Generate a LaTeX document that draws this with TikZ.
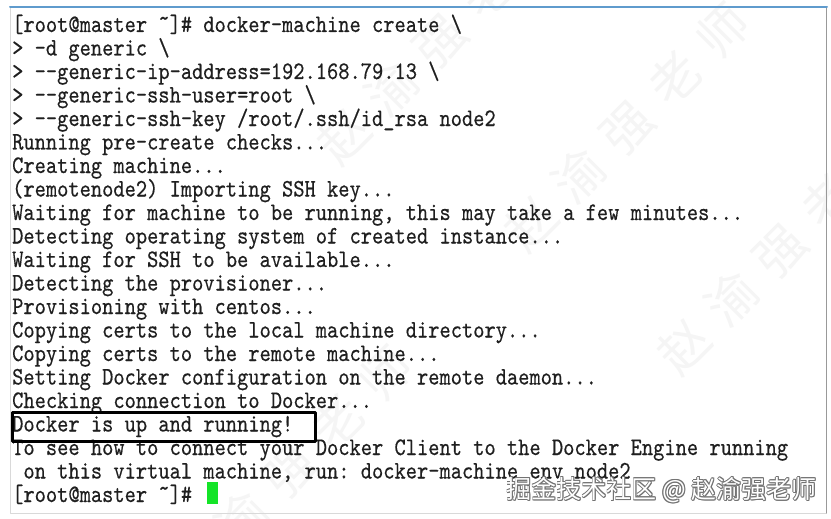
\documentclass[tikz,border=0pt]{standalone}
\usepackage{fontspec}
\setmonofont{lmmono10-regular.otf}[FakeStretch=0.85,FakeBold=0.4]
\newfontfamily\cjkfont{Noto Sans CJK SC}
\usepackage{tikz}
\usetikzlibrary{calc}
\newcommand{\wmgap}{\hspace{18pt}}
\newcommand{\tld}{\raisebox{6pt}{\textasciitilde}}
\definecolor{termblue}{RGB}{95,155,205}
\definecolor{cursorgreen}{RGB}{20,228,40}
\tikzset{
  termline/.style={anchor=base west, inner sep=0pt, font=\ttfamily\fontsize{25.2}{28}\selectfont, text=black!88},
  wmark/.style={inner sep=0pt, rotate=45, text=black!4, font=\cjkfont\fontsize{50}{50}\selectfont},
  sitemark/.style={anchor=east, inner sep=0pt, font=\cjkfont\fontsize{25}{25}\selectfont}
}

\begin{document}
\begin{tikzpicture}[line cap=round,line join=round,x=1pt,y=-1pt]
\useasboundingbox (0,0) rectangle (831,519);
\fill [white] (0,0) rectangle (831,519);
% faint diagonal watermarks
\node [wmark] (wa) at (627,127) {赵\wmgap 渝\wmgap 强\wmgap 老\wmgap 师};
\node [wmark] (wb) at (780,250) {赵\wmgap 渝\wmgap 强\wmgap 老\wmgap 师};
\node [wmark] (wc) at (290,470) {赵\wmgap 渝\wmgap 强\wmgap 老\wmgap 师};
\node [wmark] (wd) at (440,40) {赵\wmgap 渝\wmgap 强\wmgap 老\wmgap 师};
% window frame
\draw [line width=1.pt, black!15] (10.,7.) rectangle (826.,513.);
\draw [line width=1.pt, black!40] (826.,7.)-- (826.,513.);
\draw [line width=2.pt, termblue] (10.,7.)-- (827.,7.);
% terminal lines
\node [termline] (l1) at (12.,32.) {[root@master \tld]\# docker-machine create \textbackslash};
\node [termline] (l2) at (12.,55.5) {> -d generic \textbackslash};
\node [termline] (l3) at (12.,79.) {> --generic-ip-address=192.168.79.13 \textbackslash};
\node [termline] (l4) at (12.,102.5) {> --generic-ssh-user=root \textbackslash};
\node [termline] (l5) at (12.,126.) {> --generic-ssh-key /root/.ssh/id\_rsa node2};
\node [termline] (l6) at (12.,149.5) {Running pre-create checks...};
\node [termline] (l7) at (12.,173.) {Creating machine...};
\node [termline] (l8) at (12.,196.5) {(remotenode2) Importing SSH key...};
\node [termline] (l9) at (12.,220.) {Waiting for machine to be running, this may take a few minutes...};
\node [termline] (l10) at (12.,243.5) {Detecting operating system of created instance...};
\node [termline] (l11) at (12.,267.) {Waiting for SSH to be available...};
\node [termline] (l12) at (12.,290.5) {Detecting the provisioner...};
\node [termline] (l13) at (12.,314.) {Provisioning with centos...};
\node [termline] (l14) at (12.,337.5) {Copying certs to the local machine directory...};
\node [termline] (l15) at (12.,361.) {Copying certs to the remote machine...};
\node [termline] (l16) at (12.,384.5) {Setting Docker configuration on the remote daemon...};
\node [termline] (l17) at (12.,408.) {Checking connection to Docker...};
\node [termline] (l18) at (12.,431.5) {Docker is up and running!};
\node [termline] (l19) at (12.,455.) {To see how to connect your Docker Client to the Docker Engine running};
\node [termline] (l20) at (12.,478.5) {\ on this virtual machine, run: docker-machine env node2};
\node [termline] (l21) at (12.,502.) {[root@master \tld]\#};
% highlight box and cursor
\draw [line width=3.pt, black] (12.,412.) rectangle (315.,441.);
\fill [cursorgreen] (207.,482.) rectangle (218.,504.);
% site watermark, outlined
\foreach \a in {0,45,...,315}
  \node [sitemark, text=black!55] at ($(817.,490.)+(\a:0.9)$) {掘金技术社区 @ 赵渝强老师};
\node [sitemark, text=white] (site) at (817.,490.) {掘金技术社区 @ 赵渝强老师};
\end{tikzpicture}
\end{document}
